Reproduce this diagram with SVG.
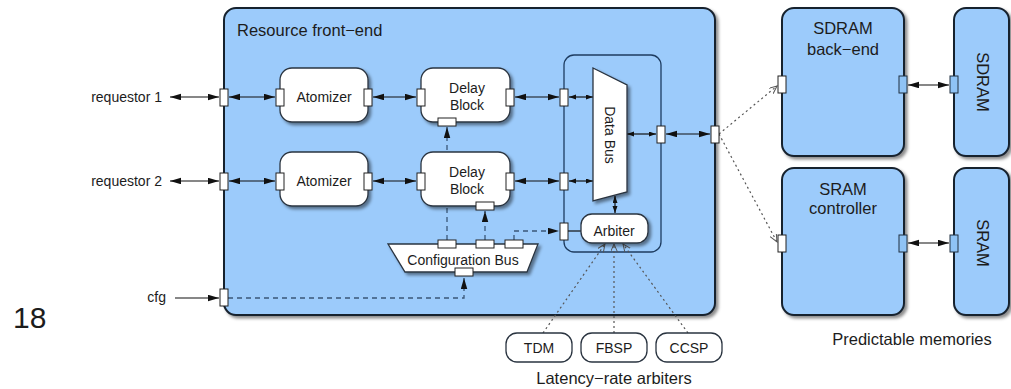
<svg xmlns="http://www.w3.org/2000/svg" width="1011" height="389" viewBox="0 0 1011 389">
<defs>
  <filter id="sh" x="-10%" y="-10%" width="130%" height="130%">
    <feDropShadow dx="2.5" dy="2.5" stdDeviation="1.5" flood-color="#000" flood-opacity="0.45"/>
  </filter>
  <marker id="ah" markerUnits="userSpaceOnUse" markerWidth="12" markerHeight="8" refX="11" refY="3.25" orient="auto-start-reverse">
    <path d="M0,0 L11,3.25 L0,6.5 z" fill="#111"/>
  </marker>
  <marker id="as" markerUnits="userSpaceOnUse" markerWidth="8" markerHeight="6" refX="7" refY="2.5" orient="auto-start-reverse">
    <path d="M0,0 L7,2.5 L0,5 z" fill="#111"/>
  </marker>
  <marker id="ao" markerUnits="userSpaceOnUse" markerWidth="10" markerHeight="8" refX="8" refY="3.5" orient="auto">
    <path d="M0,0 L8,3.5 L0,7" fill="none" stroke="#555" stroke-width="1"/>
  </marker>
</defs>
<style>
  .t{font-family:"Liberation Sans",Arial,sans-serif;fill:#1c1c1c}
  .s14{font-size:14px}
  .s16{font-size:16.5px}
  .c{text-anchor:middle}
  .blk{fill:#9ccbfb;stroke:#17212e;stroke-width:2}
  .wn{fill:#fff;stroke:#2a3440;stroke-width:1.3}
  .port{fill:#fff;stroke:#222;stroke-width:1}
  .bport{fill:#8fc3f5;stroke:#203040;stroke-width:1}
  .ln{stroke:#111;stroke-width:1.2;fill:none}
  .da{stroke:#3a5778;stroke-width:1.3;stroke-dasharray:5 4;fill:none}
  .do{stroke:#555;stroke-width:1.2;stroke-dasharray:2 3;fill:none}
</style>

<!-- slide number -->
<text class="t" x="13" y="328" style="font-size:30px">18</text>

<!-- resource front-end container -->
<g id="frontend">
  <rect class="blk" x="224" y="8" width="491" height="307" rx="12" filter="url(#sh)"/>
  <text class="t s16" x="237" y="36">Resource front−end</text>
  <rect x="564" y="55" width="97" height="197" rx="10" fill="none" stroke="#1e3c60" stroke-width="1.3"/>
</g>

<!-- external labels -->
<g id="inputs">
  <text class="t s14" x="162" y="102" text-anchor="end">requestor 1</text>
  <text class="t s14" x="162" y="186" text-anchor="end">requestor 2</text>
  <text class="t s14" x="166" y="302" text-anchor="end">cfg</text>
</g>

<!-- connectors -->
<g id="connectors">
  <path class="ln" d="M170,97 H219" marker-start="url(#ah)" marker-end="url(#ah)"/>
  <path class="ln" d="M170,181 H219" marker-start="url(#ah)" marker-end="url(#ah)"/>
  <path class="ln" d="M175,298 H219" marker-end="url(#ah)"/>
  <path class="ln" d="M229,97 H275" marker-start="url(#ah)" marker-end="url(#ah)"/>
  <path class="ln" d="M229,181 H275" marker-start="url(#ah)" marker-end="url(#ah)"/>
  <path class="ln" d="M373,97 H416" marker-start="url(#ah)" marker-end="url(#ah)"/>
  <path class="ln" d="M373,181 H416" marker-start="url(#ah)" marker-end="url(#ah)"/>
  <path class="ln" d="M515,97 H559" marker-start="url(#ah)" marker-end="url(#ah)"/>
  <path class="ln" d="M515,181 H559" marker-start="url(#ah)" marker-end="url(#ah)"/>
  <path class="ln" d="M569,97 H593" marker-start="url(#as)" marker-end="url(#as)"/>
  <path class="ln" d="M569,181 H593" marker-start="url(#as)" marker-end="url(#as)"/>
  <path class="ln" d="M627,134 H656" marker-start="url(#as)" marker-end="url(#as)"/>
  <path class="ln" d="M666,134 H710" marker-start="url(#ah)" marker-end="url(#ah)"/>
  <path class="ln" d="M615,213 V196" marker-start="url(#as)" marker-end="url(#as)"/>
  <path class="ln" d="M568,231 H581"/>
  <path class="ln" d="M908,85 H949" marker-start="url(#ah)" marker-end="url(#ah)"/>
  <path class="ln" d="M908,243 H949" marker-start="url(#ah)" marker-end="url(#ah)"/>
  <path class="da" d="M228,298 H464 V278" marker-end="url(#ah)"/>
  <path class="da" d="M447,240 V127" marker-end="url(#ah)"/>
  <path class="da" d="M485,240 V211" marker-end="url(#ah)"/>
  <path class="da" d="M514,240 V231 H559" marker-end="url(#ah)"/>
  <path class="do" d="M719,134 L777,86" marker-end="url(#ao)"/>
  <path class="do" d="M719,134 L777,242" marker-end="url(#ao)"/>
  <path class="do" d="M543,333 L605,244" marker-end="url(#ao)"/>
  <path class="do" d="M614,333 V244" marker-end="url(#ao)"/>
  <path class="do" d="M688,333 L623,244" marker-end="url(#ao)"/>
</g>

<!-- processing blocks -->
<g id="atomizer1">
  <rect class="wn" x="280" y="68" width="88" height="54" rx="12" filter="url(#sh)"/>
  <text class="t s14 c" x="324" y="102">Atomizer</text>
</g>
<g id="atomizer2">
  <rect class="wn" x="280" y="152" width="88" height="54" rx="12" filter="url(#sh)"/>
  <text class="t s14 c" x="324" y="186">Atomizer</text>
</g>
<g id="delay1">
  <rect class="wn" x="421" y="68" width="89" height="54" rx="12" filter="url(#sh)"/>
  <text class="t s14 c" x="467" y="93">Delay</text>
  <text class="t s14 c" x="467" y="110">Block</text>
</g>
<g id="delay2">
  <rect class="wn" x="421" y="152" width="89" height="54" rx="12" filter="url(#sh)"/>
  <text class="t s14 c" x="467" y="177">Delay</text>
  <text class="t s14 c" x="467" y="194">Block</text>
</g>
<g id="configbus">
  <polygon class="wn" points="388,244 538,244 527,272 405,272" filter="url(#sh)"/>
  <text class="t s14 c" x="463" y="265">Configuration Bus</text>
</g>
<g id="databus">
  <polygon class="wn" points="593,68 627,85 627,192 593,201" filter="url(#sh)"/>
  <text class="t s14 c" transform="translate(610,135) rotate(90)" dominant-baseline="central">Data Bus</text>
</g>
<g id="arbiter">
  <rect class="wn" x="581" y="214" width="67" height="29" rx="11" filter="url(#sh)"/>
  <text class="t s14 c" x="614" y="236">Arbiter</text>
</g>

<!-- arbitration policies -->
<g id="tdm">
  <rect class="wn" x="506" y="333" width="66" height="29" rx="11"/>
  <text class="t s14 c" x="539" y="353">TDM</text>
</g>
<g id="fbsp">
  <rect class="wn" x="581" y="333" width="66" height="29" rx="11"/>
  <text class="t s14 c" x="614" y="353">FBSP</text>
</g>
<g id="ccsp">
  <rect class="wn" x="656" y="333" width="66" height="29" rx="11"/>
  <text class="t s14 c" x="689" y="353">CCSP</text>
</g>
<text class="t s16 c" x="614" y="384">Latency−rate arbiters</text>

<!-- memory side -->
<g id="sdram-backend">
  <rect class="blk" x="782" y="8" width="122" height="148" rx="12" filter="url(#sh)"/>
  <text class="t s16 c" x="843" y="34">SDRAM</text>
  <text class="t s16 c" x="843" y="55">back−end</text>
</g>
<g id="sram-controller">
  <rect class="blk" x="782" y="168" width="122" height="147" rx="12" filter="url(#sh)"/>
  <text class="t s16 c" x="843" y="195">SRAM</text>
  <text class="t s16 c" x="843" y="214">controller</text>
</g>
<g id="sdram">
  <rect class="blk" x="954" y="8" width="55" height="148" rx="12" filter="url(#sh)"/>
  <text class="t s16 c" transform="translate(983,82) rotate(90)" dominant-baseline="central">SDRAM</text>
</g>
<g id="sram">
  <rect class="blk" x="954" y="168" width="55" height="147" rx="12" filter="url(#sh)"/>
  <text class="t s16 c" transform="translate(983,243) rotate(90)" dominant-baseline="central">SRAM</text>
</g>
<text class="t s16 c" x="912" y="345">Predictable memories</text>

<!-- ports -->
<g id="ports">
  <rect class="port" x="220" y="89" width="8" height="17"/>
  <rect class="port" x="220" y="173" width="8" height="17"/>
  <rect class="port" x="220" y="289" width="8" height="17"/>
  <rect class="port" x="276" y="89" width="8" height="17"/>
  <rect class="port" x="364" y="89" width="8" height="17"/>
  <rect class="port" x="276" y="173" width="8" height="17"/>
  <rect class="port" x="364" y="173" width="8" height="17"/>
  <rect class="port" x="417" y="89" width="8" height="17"/>
  <rect class="port" x="506" y="89" width="8" height="17"/>
  <rect class="port" x="417" y="173" width="8" height="17"/>
  <rect class="port" x="506" y="173" width="8" height="17"/>
  <rect class="port" x="438" y="118" width="18" height="8"/>
  <rect class="port" x="476" y="202" width="18" height="8"/>
  <rect class="port" x="438" y="240" width="18" height="8"/>
  <rect class="port" x="476" y="240" width="18" height="8"/>
  <rect class="port" x="505" y="240" width="18" height="8"/>
  <rect class="port" x="455" y="268" width="18" height="8"/>
  <rect class="port" x="560" y="89" width="8" height="17"/>
  <rect class="port" x="560" y="173" width="8" height="17"/>
  <rect class="port" x="560" y="223" width="8" height="17"/>
  <rect class="port" x="657" y="126" width="8" height="17"/>
  <rect class="port" x="711" y="126" width="8" height="17"/>
  <rect class="port" x="778" y="76" width="8" height="17"/>
  <rect class="port" x="778" y="235" width="8" height="17"/>
  <rect class="bport" x="899" y="76" width="8" height="17"/>
  <rect class="bport" x="899" y="235" width="8" height="17"/>
  <rect class="bport" x="950" y="76" width="8" height="17"/>
  <rect class="bport" x="950" y="235" width="8" height="17"/>
</g>
</svg>
